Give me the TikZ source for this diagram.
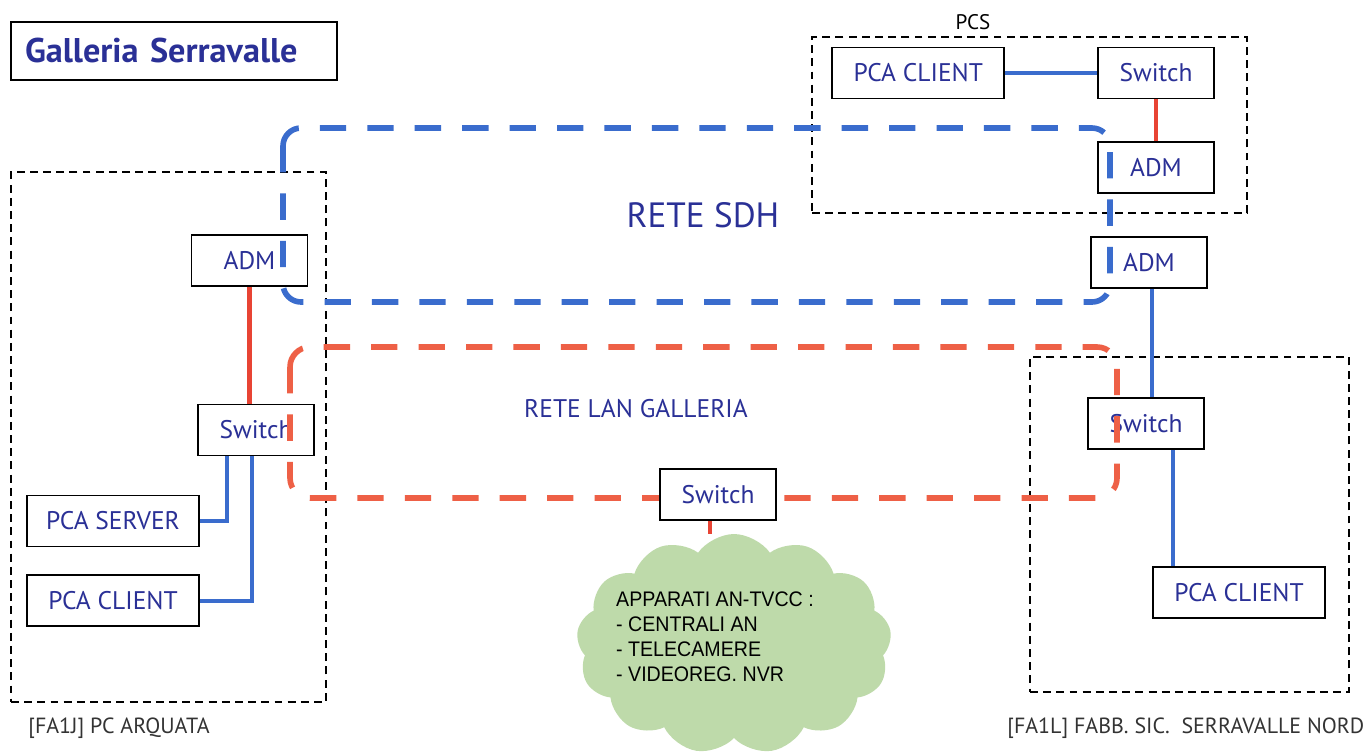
\documentclass[tikz,border=0pt]{standalone}
\usepackage{fontspec}
\setmainfont{PT Sans}
\newfontfamily\cloudfont[FakeStretch=0.93]{Liberation Sans}
\usetikzlibrary{positioning, fit, shapes.symbols}
\definecolor{TextBlue}{RGB}{42,48,150}
\definecolor{LinkBlue}{RGB}{58,108,205}
\definecolor{LinkRed}{RGB}{232,68,52}
\definecolor{RingRed}{RGB}{238,96,70}
\definecolor{CloudGreen}{RGB}{190,218,170}
\definecolor{LabelGray}{HTML}{333333}

\begin{document}
\begin{tikzpicture}[
    x=0.02cm, y=-0.02cm,
    device/.style={rectangle, draw=black, line width=1pt, fill=white, text=TextBlue, inner sep=0pt,
                   minimum width=2.32cm, minimum height=1.02cm, font=\fontsize{14.5}{17}\selectfont},
    widebox/.style={device, minimum width=3.44cm},
    groupbox/.style={draw=black, line width=1pt, dash pattern=on 4.5pt off 3pt, inner sep=0pt},
    bluelink/.style={draw=LinkBlue, line width=2.4pt},
    redlink/.style={draw=LinkRed, line width=2.4pt},
    sdhring/.style={draw=LinkBlue, line width=3.2pt, dash pattern=on 15pt off 12pt, rounded corners=0.36cm},
    lanring/.style={draw=RingRed, line width=3.2pt, dash pattern=on 15pt off 12pt, rounded corners=0.4cm},
    netlabel/.style={text=TextBlue},
    sitelabel/.style={text=LabelGray, font=\fontsize{12.5}{15}\selectfont, anchor=west, inner sep=0pt}
]
\useasboundingbox (0,0) rectangle (1367,754);

% title
\node[draw=black, line width=1pt, minimum width=6.52cm, minimum height=1.16cm, inner xsep=0.28cm,
      text width=5.96cm, align=left, text=TextBlue, font=\fontsize{19.5}{22}\selectfont\bfseries]
      (title) at (174,51) {Galleria Serravalle};

% site frames
\node[groupbox, fit={(812,37) (1247,213)}] (pcsgroup) {};
\node[groupbox, fit={(11,172) (326,702)}] (arquata) {};
\node[groupbox, fit={(1030,357) (1349,692)}] (nord) {};

% PCS
\node[device] (pcssw) at (1156,73) {Switch};
\node[widebox, left=1.84cm of pcssw] (pcsclient) {PCA CLIENT};
\node[device, below=0.84cm of pcssw] (pcsadm) {ADM};

% Serravalle nord
\node[device] (admr) at (1149,262.5) {ADM};
\node[device] (swr) at (1146,423.5) {Switch};
\node[widebox] (clientr) at (1239,592.5) {PCA CLIENT};

% Arquata
\node[device] (adml) at (249.5,260.5) {ADM};
\node[device] (swl) at (256,430) {Switch};
\node[widebox] (server) at (113,521) {PCA SERVER};
\node[widebox, below=0.54cm of server] (clientl) {PCA CLIENT};

% cloud
\node[cloud, cloud puffs=13, cloud puff arc=110, aspect=1.5, fill=CloudGreen,
      minimum width=6.3cm, minimum height=4.4cm] (cloud) at (734,644) {};
\node[text=black, align=left, font=\cloudfont\fontsize{12}{14.2}\selectfont] (apparati) at (715,637)
      {APPARATI AN-TVCC :\\- CENTRALI AN\\- TELECAMERE\\- VIDEOREG. NVR};

% links
\draw[bluelink] (pcsclient) -- (pcssw);
\draw[redlink] (pcssw) -- (pcsadm);
\draw[bluelink] ([xshift=0.06cm]admr.south) -- ([xshift=0.06cm]admr.south |- swr.north);
\draw[bluelink] ([xshift=0.54cm]swr.south) -- ([xshift=0.54cm]swr.south |- clientr.north);
\draw[redlink] (adml.south) -- (adml.south |- swl.north);
\draw[bluelink] ([xshift=-0.58cm]swl.south) |- (server.east);
\draw[bluelink] ([xshift=-0.08cm]swl.south) |- (clientl.east);

% rings
\coordinate (sdhnw) at (283,128);
\coordinate (sdhse) at (1110,302);
\coordinate (lannw) at (290,347);
\coordinate (lanse) at (1117,498);
\draw[sdhring] (sdhnw) rectangle (sdhse);
\draw[lanring] (lannw) rectangle (lanse);

\node[device] (midsw) at (718,494.5) {Switch};
\draw[redlink] ([xshift=-0.16cm]midsw.south) -- ([xshift=-0.16cm]midsw.south |- cloud.north);

% labels
\node[netlabel, font=\fontsize{20}{24}\selectfont] (sdh) at (703,215) {RETE SDH};
\node[netlabel, font=\fontsize{14.5}{17}\selectfont] (lan) at (636,409) {RETE LAN GALLERIA};
\node[font=\fontsize{12}{14}\selectfont] (pcs) at (973,22) {PCS};
\node[sitelabel] (fa1j) at (28,728) {[FA1J] PC ARQUATA};
\node[sitelabel] (fa1l) at (1007,728) {[FA1L] FABB. SIC.~ SERRAVALLE NORD};

\end{tikzpicture}
\end{document}
